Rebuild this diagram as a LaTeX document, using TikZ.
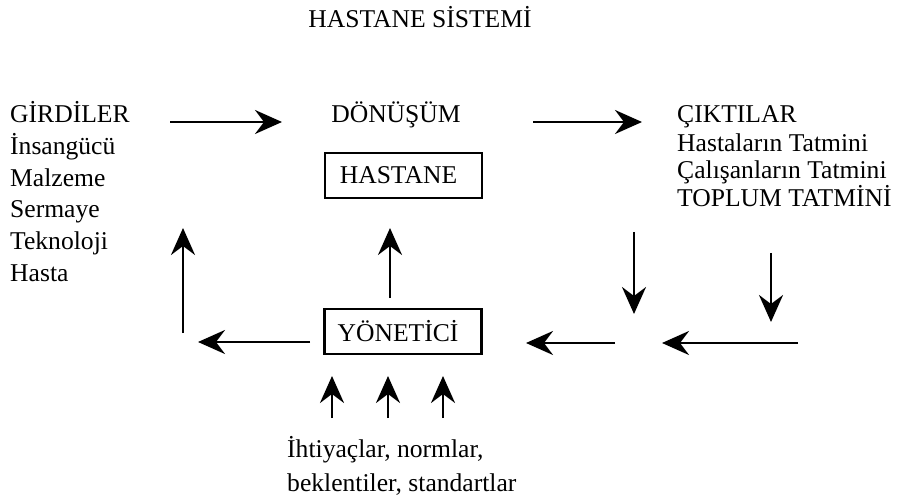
\documentclass[tikz,border=0pt]{standalone}
\usepackage{fontspec}
\setmainfont{Liberation Serif}
\usetikzlibrary{arrows.meta}
\begin{document}
\begin{tikzpicture}[x=1pt,y=-1pt,
  font=\fontsize{25.6}{30}\selectfont,
  txt/.style={inner sep=0pt, anchor=base west},
  ctr/.style={inner sep=0pt, anchor=base},
  arr/.style={line width=2.6pt, -{Stealth[length=27pt,width=24pt,inset=9pt]}},
  boxn/.style={draw, line width=2.2pt, minimum width=157pt, minimum height=45pt, inner sep=0pt}]
\useasboundingbox (0,0) rectangle (908,497);

% title
\node[ctr] (title) at (420,28) {HASTANE SİSTEMİ};

% inputs
\node[txt] (g0) at (10,123) {GİRDİLER};
\node[txt] (g1) at (10,155) {İnsangücü};
\node[txt] (g2) at (10,186.5) {Malzeme};
\node[txt] (g3) at (10,218) {Sermaye};
\node[txt] (g4) at (10,250) {Teknoloji};
\node[txt] (g5) at (10,281.5) {Hasta};

% transformation
\node[ctr] (don) at (396,123) {DÖNÜŞÜM};
\node[boxn] (hastane) at (403.5,175.5) {HASTANE\hspace*{10pt}};

% outputs
\node[txt] (c0) at (677,123) {ÇIKTILAR};
\node[txt] (c1) at (677,152) {Hastaların Tatmini};
\node[txt] (c2) at (677,179) {Çalışanların Tatmini};
\node[txt] (c3) at (677,207) {TOPLUM TATMİNİ};

% manager
\node[boxn] (yon) at (403,331.5) {YÖNETİCİ\hspace*{10pt}};

% bottom text
\node[txt] (b1) at (287,457) {İhtiyaçlar, normlar,};
\node[txt] (b2) at (287,491) {beklentiler, standartlar};

% arrow end points
\coordinate (a1s) at (170,122);  \coordinate (a1e) at (282,122);
\coordinate (a2s) at (533,122);  \coordinate (a2e) at (642,122);
\coordinate (d1s) at (634,232);  \coordinate (d1e) at (634,314);
\coordinate (d2s) at (771,253);  \coordinate (d2e) at (771,322);
\coordinate (l1s) at (798,343);  \coordinate (l1e) at (662,343);
\coordinate (l2s) at (615,343);  \coordinate (l2e) at (526,343);
\coordinate (l3s) at (310,342);  \coordinate (l3e) at (198,342);
\coordinate (u1s) at (183,333);  \coordinate (u1e) at (183,228);
\coordinate (u2s) at (390,298);  \coordinate (u2e) at (390,228);
\coordinate (n1s) at (332,418);  \coordinate (n1e) at (332,376);
\coordinate (n2s) at (388,418);  \coordinate (n2e) at (388,376);
\coordinate (n3s) at (443,418);  \coordinate (n3e) at (443,376);

\draw[arr] (a1s) -- (a1e);
\draw[arr] (a2s) -- (a2e);
\draw[arr] (d1s) -- (d1e);
\draw[arr] (d2s) -- (d2e);
\draw[arr] (l1s) -- (l1e);
\draw[arr] (l2s) -- (l2e);
\draw[arr] (l3s) -- (l3e);
\draw[arr] (u1s) -- (u1e);
\draw[arr] (u2s) -- (u2e);
\draw[arr] (n1s) -- (n1e);
\draw[arr] (n2s) -- (n2e);
\draw[arr] (n3s) -- (n3e);
\end{tikzpicture}
\end{document}
